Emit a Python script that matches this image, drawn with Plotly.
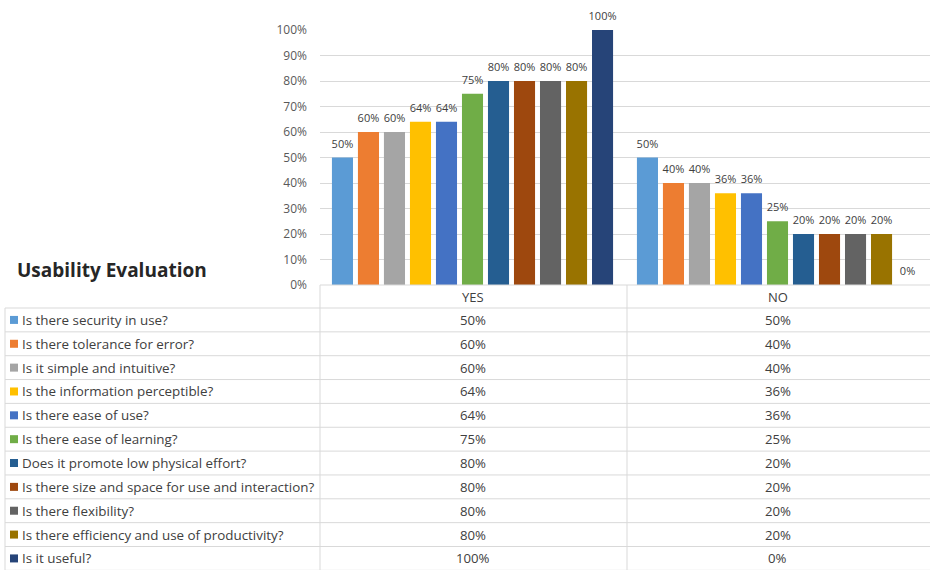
import plotly.graph_objects as go

categories = ["YES", "NO"]
questions = [
    "Is there security in use?",
    "Is there tolerance for error?",
    "Is it simple and intuitive?",
    "Is the information perceptible?",
    "Is there ease of use?",
    "Is there ease of learning?",
    "Does it promote low physical effort?",
    "Is there size and space for use and interaction?",
    "Is there flexibility?",
    "Is there efficiency and use of productivity?",
    "Is it useful?",
]
yes_values = [0.50, 0.60, 0.60, 0.64, 0.64, 0.75, 0.80, 0.80, 0.80, 0.80, 1.00]
no_values = [0.50, 0.40, 0.40, 0.36, 0.36, 0.25, 0.20, 0.20, 0.20, 0.20, 0.00]
colors = ["#5B9BD5", "#ED7D31", "#A5A5A5", "#FFC000", "#4472C4", "#70AD47",
          "#255E91", "#9E480E", "#636363", "#997300", "#264478"]
tick_vals = [0, 0.1, 0.2, 0.3, 0.4, 0.5, 0.6, 0.7, 0.8, 0.9, 1.0]
tick_text = ["0%", "10%", "20%", "30%", "40%", "50%", "60%", "70%", "80%", "90%", "100%"]
title_text = "Usability Evaluation"

W, H = 930, 570
FONT = "'Open Sans', sans-serif"
TXT = "#404040"
LINE = "#D9D9D9"
LIFT_PX = 4  # data labels sit a little higher above the bars


def px(x):
    return x / W


def py(y):
    return 1 - y / H


fig = go.Figure()
for q, yv, nv, c in zip(questions, yes_values, no_values, colors):
    fig.add_trace(go.Bar(
        name=q, x=categories, y=[yv, nv], marker=dict(color=c, line=dict(width=0)),
        showlegend=False, hoverinfo="skip", xaxis="x", yaxis="y",
    ))
for q, yv, nv in zip(questions, yes_values, no_values):
    fig.add_trace(go.Bar(
        name=q, x=categories, y=[yv, nv], marker=dict(color="rgba(0,0,0,0)", line=dict(width=0)),
        texttemplate="%{y:.0%}", textposition="outside", constraintext="none",
        textfont=dict(size=11, color=TXT, family=FONT), cliponaxis=False,
        showlegend=False, hoverinfo="skip", xaxis="x", yaxis="y2",
    ))

shapes = []
annotations = []

x_left, x_sep, x_mid, x_right = 5, 320, 627, 930
y_head, y_top, y_rows0, row_h = 285, 30, 308, 23.85
n = len(questions)

shapes.append(dict(type="line", xref="paper", yref="paper", x0=px(x_sep), x1=px(x_right),
                   y0=py(y_head), y1=py(y_head), line=dict(color=LINE, width=1)))
for i in range(n + 1):
    yy = y_rows0 + i * row_h
    shapes.append(dict(type="line", xref="paper", yref="paper", x0=px(x_left), x1=px(x_right),
                       y0=py(yy), y1=py(yy), line=dict(color=LINE, width=1)))
shapes.append(dict(type="line", xref="paper", yref="paper", x0=px(x_left), x1=px(x_left),
                   y0=py(y_rows0), y1=py(H), line=dict(color=LINE, width=1)))
for xx in (x_sep, x_mid):
    shapes.append(dict(type="line", xref="paper", yref="paper", x0=px(xx), x1=px(xx),
                       y0=py(y_head), y1=py(H), line=dict(color=LINE, width=1)))

for j, cat in enumerate(categories):
    annotations.append(dict(x=j, y=py((y_head + y_rows0) / 2), xref="x", yref="paper",
                            text=cat, showarrow=False, xanchor="center", yanchor="middle",
                            font=dict(size=13, color=TXT, family=FONT)))

for i, (q, yv, nv, c) in enumerate(zip(questions, yes_values, no_values, colors)):
    cy = y_rows0 + (i + 0.5) * row_h
    shapes.append(dict(type="rect", xref="paper", yref="paper", x0=px(10), x1=px(18),
                       y0=py(cy - 4), y1=py(cy + 4), fillcolor=c, line=dict(width=0)))
    annotations.append(dict(x=px(20), y=py(cy), xref="paper", yref="paper", text=q,
                            showarrow=False, xanchor="left", yanchor="middle",
                            font=dict(size=13.4, color=TXT, family=FONT)))
    for j, v in enumerate((yv, nv)):
        annotations.append(dict(x=j, y=py(cy), xref="x", yref="paper", text=f"{v:.0%}",
                                showarrow=False, xanchor="center", yanchor="middle",
                                font=dict(size=13.2, color=TXT, family=FONT)))

annotations.append(dict(x=px(15), y=py(270), xref="paper", yref="paper",
                        text="<b>" + title_text + "</b>", showarrow=False,
                        xanchor="left", yanchor="middle",
                        font=dict(size=19, color="#262626", family=FONT)))

fig.update_layout(
    template="none",
    width=W, height=H, autosize=False,
    margin=dict(l=0, r=0, t=0, b=0, pad=0, autoexpand=False),
    paper_bgcolor="white", plot_bgcolor="rgba(0,0,0,0)",
    barmode="group", bargap=0.062, bargroupgap=0.19,
    font=dict(family=FONT, color=TXT),
    xaxis=dict(domain=[px(x_sep), 1], showticklabels=False, showgrid=False,
               zeroline=False, showline=False, fixedrange=True, automargin=False,
               anchor="y"),
    yaxis=dict(domain=[py(y_head), py(y_top)], range=[0, 1], tickvals=tick_vals,
               ticktext=tick_text, showgrid=True, gridcolor=LINE, gridwidth=1,
               zeroline=False, showline=False, ticks="", ticklabelstandoff=12,
               automargin=False, anchor="x",
               tickfont=dict(size=12, color="#595959", family=FONT), fixedrange=True),
    yaxis2=dict(domain=[py(y_head - LIFT_PX), py(y_top - LIFT_PX)], anchor="x",
                range=[0, 1], showticklabels=False, showgrid=False, ticks="",
                showline=False, zeroline=False, automargin=False, fixedrange=True),
    shapes=shapes, annotations=annotations,
)

fig.write_html("out.html")
